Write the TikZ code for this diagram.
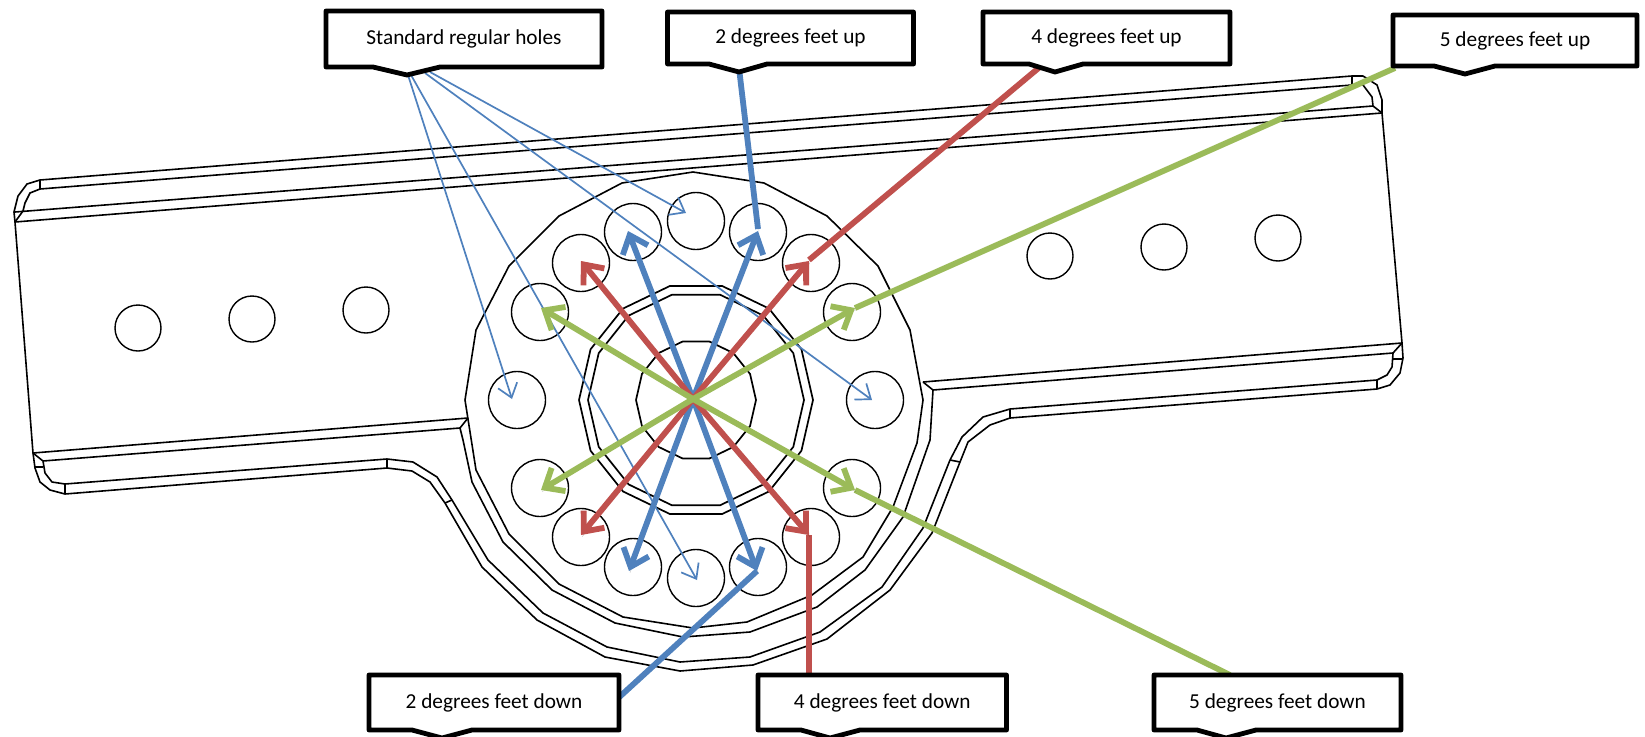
\documentclass[tikz,border=0pt]{standalone}
\usepackage{fontspec}
\setmainfont{Carlito}
\usetikzlibrary{arrows.meta,shapes.geometric}
\definecolor{ablue}{HTML}{4F81BD}
\definecolor{ared}{HTML}{C0504D}
\definecolor{agreen}{HTML}{9BBB59}
\tikzset{
  part/.style={draw=black,line width=1.6pt,line join=round},
  hole/.style={circle,draw=black,line width=1.4pt,minimum size=57pt,inner sep=0pt,outer sep=0pt},
  barhole/.style={circle,draw=black,line width=1.4pt,minimum size=46pt,inner sep=0pt,outer sep=0pt},
  ring/.style={regular polygon,regular polygon sides=14,draw=black,line width=1.7pt,inner sep=0pt,outer sep=0pt},
  softshadow/.style={preaction={draw=black,draw opacity=.22,-,transform canvas={shift={(1pt,-1.8pt)}}}},
  thinarrow/.style={draw=ablue,line width=1.7pt,-{Straight Barb[length=13pt,width=20pt]}},
  thick/.style={line width=5.8pt,softshadow},
  thickarrow/.style={line width=5.8pt,-{Straight Barb[length=16pt,width=27pt]},softshadow},
  calloutbox/.style={draw=black,fill=white,line width=4.8pt,line join=round},
  calloutlabel/.style={font=\fontsize{21.3}{24}\selectfont,inner sep=0pt,text=black}
}
\newcommand\callout[9]{%
  \draw[calloutbox] (#2,#3) -- (#4,#3) -- (#4,#5) -- (#8,#5) -- (#7,#5+8) -- (#6,#5) -- (#2,#5) -- cycle;
  \node[calloutlabel] (#1) at ({(#2+#4)/2},{(#3+#5)/2}) {#9};
}
\begin{document}
\begin{tikzpicture}[x=1pt,y=-1pt]
\useasboundingbox (0,0) rectangle (1645,736);
\fill[white] (0,0) rectangle (1645,736);
% bar, long lines
\draw[part] (40,180) -- (1352,76);
\draw[part] (40,189) -- (1352,85);
\draw[part] (15,212) -- (1373,106);
\draw[part] (15,222) -- (1382,113);
\draw[part] (40,180) -- (40,189) (1352,76) -- (1352,85);
% corners and ends
\draw[part] (40,180) -- (27,184) -- (18,196) -- (14,212) -- (15,222) -- (33,453) -- (35,468) -- (40,482) -- (50,490) -- (65,494);
\draw[part] (40,189) -- (30,193) -- (25,203) -- (23,211) -- (15,222);
\draw[part] (33,453) -- (43,461) -- (45,473) -- (52,482) -- (65,484);
\draw[part] (34,467) -- (43,467) (65,484) -- (65,494);
\draw[part] (1352,76) -- (1363,76) -- (1377,85) -- (1382,100) -- (1382,113) -- (1402,343) -- (1403,358) -- (1400,373) -- (1390,385) -- (1377,389);
\draw[part] (1352,85) -- (1363,85) -- (1372,97) -- (1373,106) -- (1382,113);
\draw[part] (1402,343) -- (1393,353) -- (1392,367) -- (1387,375) -- (1377,380);
\draw[part] (1393,359) -- (1403,359) (1377,380) -- (1377,389);
% lower bar edges
\draw[part] (33,453) -- (468,418);
\draw[part] (43,461) -- (460,428);
\draw[part] (923,382) -- (1402,343);
\draw[part] (933,390) -- (1393,353);
\draw[part] (468,418) -- (460,428) (923,382) -- (933,390);
% hub
\draw[part] (693,172) -- (764,183) -- (827,216) -- (878,266) -- (910,330) -- (923,400) -- (917,443) -- (893,507) -- (863,557) -- (812,595) -- (747,622) -- (693,628) -- (623,617) -- (559,584) -- (509,534) -- (476,470) -- (465,400) -- (476,330) -- (509,266) -- (559,216) -- (622,183) -- cycle;
\draw[part] (460,428) -- (463,440) -- (472,482) -- (503,542) -- (552,590) -- (615,623) -- (683,637) -- (750,632) -- (817,607) -- (865,570) -- (903,517) -- (930,440) -- (933,390);
% lower arcs
\draw[part] (65,484) -- (387,459) -- (413,462) -- (437,477) -- (452,500) -- (488,560) -- (543,613) -- (607,647) -- (680,662) -- (750,657) -- (820,632) -- (882,587) -- (923,528) -- (950,460) -- (962,437) -- (983,417) -- (1010,409) -- (1377,380);
\draw[part] (65,494) -- (387,468) -- (412,471) -- (430,482) -- (445,503) -- (482,567) -- (537,620) -- (605,657) -- (680,671) -- (753,665) -- (827,639) -- (890,590) -- (932,533) -- (960,462) -- (968,442) -- (990,425) -- (1010,418) -- (1377,389);
\draw[part] (387,459) -- (387,468) (445,503) -- (452,500) (950,460) -- (960,462) (1010,409) -- (1010,418);
% central rings
\node[ring,minimum size=234pt] (ringouter) at (696,400) {};
\node[ring,minimum size=216pt] (ringinner) at (696,400) {};
\node[ring,minimum size=120pt] (ringcore) at (696,400) {};
% bar holes
\node[barhole] (bl1) at (138,328) {};
\node[barhole] (bl2) at (252,319) {};
\node[barhole] (bl3) at (366,310) {};
\node[barhole] (br1) at (1050,256) {};
\node[barhole] (br2) at (1164,247) {};
\node[barhole] (br3) at (1278,238) {};
% hub holes
\node[hole] (h1) at (696,221) {};
\node[hole] (h2) at (633,232) {};
\node[hole] (h3) at (758,232) {};
\node[hole] (h4) at (581,263) {};
\node[hole] (h5) at (811,263) {};
\node[hole] (h6) at (540,312) {};
\node[hole] (h7) at (852,312) {};
\node[hole] (h8) at (517,400) {};
\node[hole] (h9) at (875,400) {};
\node[hole] (h10) at (540,488) {};
\node[hole] (h11) at (852,488) {};
\node[hole] (h12) at (581,537) {};
\node[hole] (h13) at (811,537) {};
\node[hole] (h14) at (633,567) {};
\node[hole] (h15) at (758,567) {};
\node[hole] (h16) at (696,578) {};
% connector ends
\coordinate (ctr) at (693,399);
\coordinate (sa) at (408,75); \coordinate (sb) at (411,75);
\coordinate (sc) at (425,73); \coordinate (sd) at (430,72);
\coordinate (ta) at (512,399); \coordinate (tb) at (697,580);
\coordinate (tc) at (872,400); \coordinate (td) at (686,213);
\coordinate (b1) at (628,231); \coordinate (b2) at (758,231);
\coordinate (b3) at (629,571); \coordinate (b4) at (757,571);
\coordinate (r1) at (581,261); \coordinate (r2) at (809,261);
\coordinate (r3) at (581,535); \coordinate (r4) at (809,535);
\coordinate (g1) at (541,308); \coordinate (g2) at (855,308);
\coordinate (g3) at (541,490); \coordinate (g4) at (855,490);
\coordinate (bu) at (739,68); \coordinate (bue) at (758,229);
\coordinate (ru) at (1041,66); \coordinate (rue) at (809,260);
\coordinate (gu) at (1395,68); \coordinate (gue) at (855,308);
\coordinate (bd) at (615,701); \coordinate (bde) at (757,571);
\coordinate (rd) at (809,675); \coordinate (rde) at (809,535);
\coordinate (gd) at (1230,675); \coordinate (gde) at (855,490);
% thin arrows
\draw[thinarrow] (sa) -- (ta);
\draw[thinarrow] (sb) -- (tb);
\draw[thinarrow] (sc) -- (tc);
\draw[thinarrow] (sd) -- (td);
% thick connectors
\draw[thick,draw=ablue] (bu) -- (bue);
\draw[thick,draw=ablue] (bd) -- (bde);
\draw[thick,draw=ared] (ru) -- (rue);
\draw[thick,draw=ared] (rd) -- (rde);
\draw[thick,draw=agreen] (gu) -- (gue);
\draw[thick,draw=agreen] (gd) -- (gde);
% radial arrows
\foreach \t in {b1,b2,b3,b4} \draw[thickarrow,draw=ablue] (ctr) -- (\t);
\foreach \t in {r1,r2,r3,r4} \draw[thickarrow,draw=ared] (ctr) -- (\t);
\foreach \t in {g1,g2,g3,g4} \draw[thickarrow,draw=agreen] (ctr) -- (\t);
% callouts
\callout{lstd}{326}{11}{602}{67}{373}{407}{440}{Standard regular holes}
\callout{ltwou}{667.5}{12}{913.5}{64}{709}{739}{767}{2 degrees feet up}
\callout{lfouru}{983}{12}{1230}{64}{1029}{1055}{1083}{4 degrees feet up}
\callout{lfiveu}{1393}{15}{1637}{66}{1434}{1465}{1495}{5 degrees feet up}
\callout{ltwod}{369}{675}{619}{730}{412}{442}{472}{2 degrees feet down}
\callout{lfourd}{758}{675}{1006.5}{730}{801}{830}{860}{4 degrees feet down}
\callout{lfived}{1154}{675}{1401}{730}{1197}{1226}{1256}{5 degrees feet down}
\end{tikzpicture}
\end{document}
